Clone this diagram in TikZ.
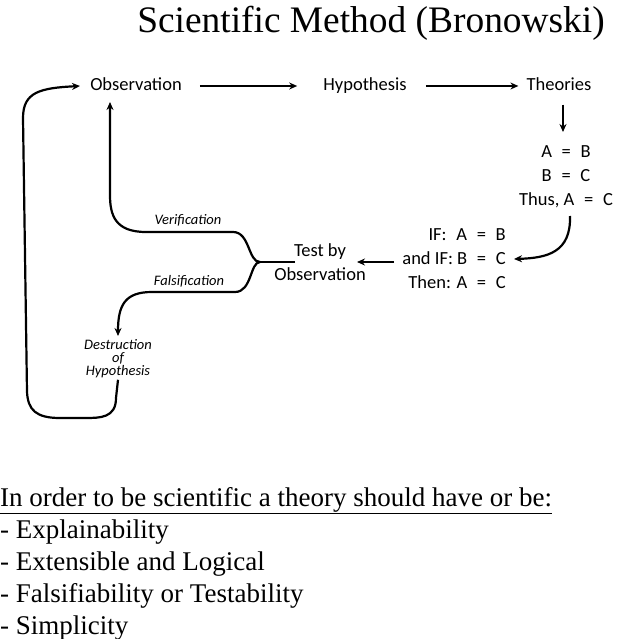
\documentclass[tikz,border=0pt]{standalone}
\usepackage{fontspec}
\setmainfont{Liberation Serif}
\newfontfamily\handf{Carlito}
\usetikzlibrary{arrows.meta}
\begin{document}
\begin{tikzpicture}[x=1pt,y=-1pt,
  lw/.style={line width=2.2pt},
  arr/.style={lw,-{Stealth[length=8pt,width=7pt]}},
  hand/.style={font=\handf\fontsize{18.5}{24}\selectfont, inner sep=0pt},
  row/.style={hand, text height=12pt, text depth=3pt},
  ital/.style={font=\handf\itshape\fontsize{14.5}{13}\selectfont, inner sep=0pt},
  serif/.style={inner sep=0pt, anchor=base west, font=\fontsize{27}{32}\selectfont}]
\useasboundingbox (0,0) rectangle (616,639);
% title
\node[inner sep=0pt, anchor=base, font=\fontsize{37.4}{40}\selectfont] (title) at (371,33) {Scientific Method (Bronowski)};
% top row
\node[row] (obs) at (136,86) {Observation};
\node[row] (hyp) at (365,86) {Hypothesis};
\node[row] (theo) at (559,86) {Theories};
\draw[arr] ([xshift=18pt]obs.east) -- ([xshift=-26pt]hyp.west);
\draw[arr] ([xshift=19pt]hyp.east) -- ([xshift=-8pt]theo.west);
% deduction
\node[hand, align=center, anchor=north] (thus) at (566,145) {A\hspace{0.3em} =\hspace{0.3em} B\\B\hspace{0.3em} =\hspace{0.3em} C\\Thus, A\hspace{0.3em} =\hspace{0.3em} C};
\draw[arr] ([xshift=4pt,yshift=-11pt]theo.south) -- ([xshift=-3pt,yshift=13pt]thus.north);
% IF stack
\node[hand, align=right, anchor=north east] (ifs) at (506,228) {IF:\hspace{0.3em} A\hspace{0.3em} =\hspace{0.3em} B\\and IF: B\hspace{0.3em} =\hspace{0.3em} C\\Then: A\hspace{0.3em} =\hspace{0.3em} C};
\coordinate (cstart) at (570,216);
\coordinate (ctip) at (514,259);
\draw[arr] (cstart) .. controls (571,252) and (548,258) .. (ctip);
% test
\node[hand, align=center, anchor=north] (test) at (320,243) {Test by\\Observation};
\coordinate (ttip) at (357,262);
\draw[arr] (ifs.west |- ttip) ++(-8,0) -- (ttip);
% branches
\coordinate (fork) at (260,262);
\coordinate (vtip) at (110,102);
\node[ital] (ver) at (188,220) {Verification};
\node[ital] (fal) at (189,281) {Falsification};
\node[ital, align=center, anchor=north] (des) at (118,339) {Destruction\\of\\Hypothesis};
\draw[lw] (295,262) -- (fork);
\draw[arr] (fork) .. controls (248,262) and (250,232) .. (233,232) -- (146,232)
  .. controls (115,232) and (110,215) .. (110,195) -- (vtip);
\draw[arr] (fork) .. controls (250,262) and (252,292) .. (235,292) -- (152,292)
  .. controls (125,292) and (118,305) .. ([yshift=3pt]des.north);
% loop back
\coordinate (otip) at (80,86);
\draw[arr] ([yshift=-2pt]des.south) -- (116,398) .. controls (116,418) and (100,418) .. (85,418) -- (60,418)
  .. controls (36,418) and (28,410) .. (27,392) -- (23,118)
  .. controls (23,92) and (40,88) .. (otip);
% bottom text
\node[serif] (l0) at (0,506) {\underline{In order to be scientific a theory should have or be:}};
\node[serif] (l1) at (0,538) {- Explainability};
\node[serif] (l2) at (0,570) {- Extensible and Logical};
\node[serif] (l3) at (0,602) {- Falsifiability or Testability};
\node[serif] (l4) at (0,634) {- Simplicity};
\end{tikzpicture}
\end{document}
